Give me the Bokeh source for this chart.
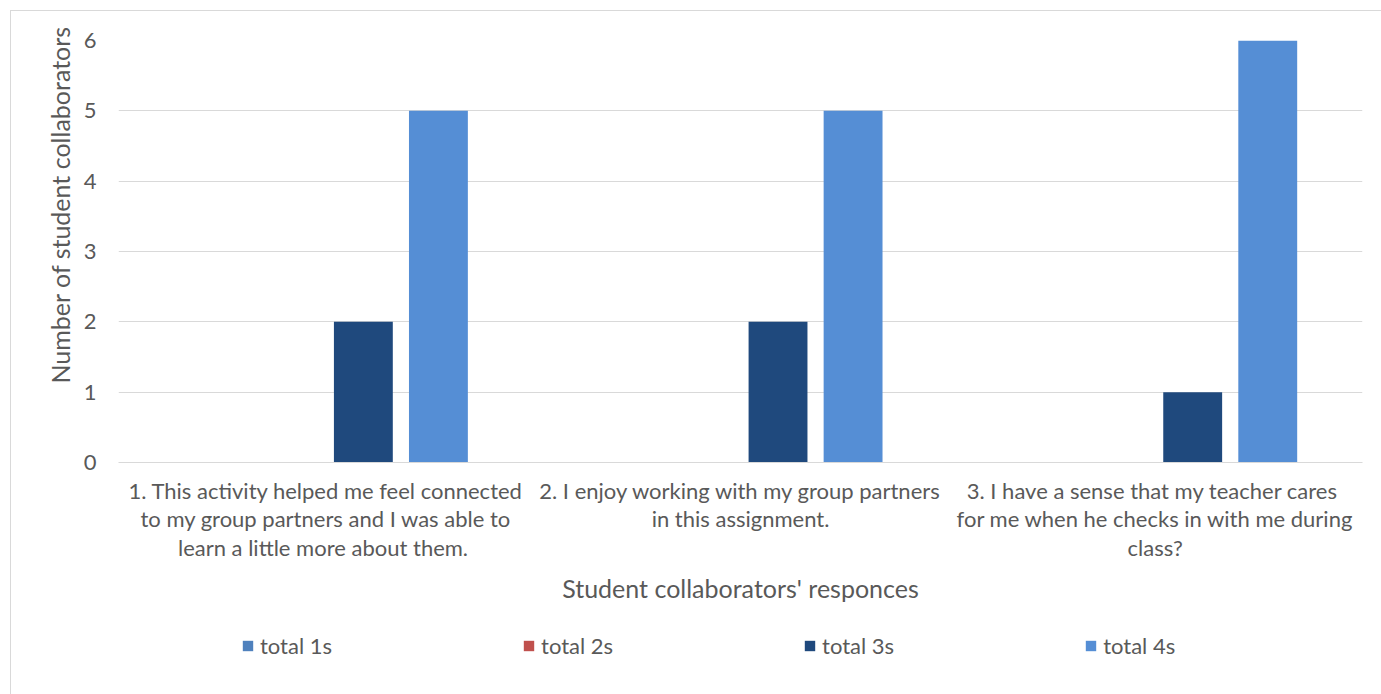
from bokeh.plotting import figure
from bokeh.layouts import column
from bokeh.models import (ColumnDataSource, FactorRange, Range1d, Legend,
                          LegendItem, FixedTicker, Title)
from bokeh.transform import dodge
from bokeh.embed import file_html
from bokeh.resources import INLINE

# ---- data ----
categories = [
    "1. This activity helped me feel connected\nto my group partners and I was able to\nlearn a little more  about them.",
    "2. I enjoy working with my group partners\nin this assignment.",
    "3.  I have a sense that my teacher cares\nfor me when he checks in with me during\nclass?",
]
series_names = ["total 1s", "total 2s", "total 3s", "total 4s"]
total_1s = [0, 0, 0]
total_2s = [0, 0, 0]
total_3s = [2, 2, 1]
total_4s = [5, 5, 6]
y_ticks = [0, 1, 2, 3, 4, 5, 6]
x_title = "Student collaborators' responces"
y_title = "Number of student collaborators"

colors = ["#4F81BD", "#C0504D", "#1F497D", "#558ED5"]
FONT = "Lato"
TXT = "#595959"
GRID = "#D9D9D9"

source = ColumnDataSource(data=dict(
    cat=categories, s1=total_1s, s2=total_2s, s3=total_3s, s4=total_4s))

p = figure(x_range=FactorRange(*categories), y_range=Range1d(0, 6),
           width=1370, height=610, output_backend="svg", toolbar_location=None,
           min_border_left=107, min_border_right=19, min_border_top=29,
           min_border_bottom=159)
p.outline_line_color = None
p.background_fill_color = "white"
p.border_fill_color = "white"

offsets = [-0.2715, -0.0905, 0.0905, 0.2715]
cols = ["s1", "s2", "s3", "s4"]
for col, off, c in zip(cols, offsets, colors):
    p.vbar(x=dodge("cat", off, range=p.x_range), top=col, width=0.142,
           source=source, fill_color=c, line_color=None)

# y axis
p.yaxis.ticker = FixedTicker(ticks=y_ticks)
p.yaxis.axis_line_color = None
p.yaxis.major_tick_line_color = None
p.yaxis.minor_tick_line_color = None
p.yaxis.major_label_text_font = FONT
p.yaxis.major_label_text_font_size = "22px"
p.yaxis.major_label_text_color = TXT
p.yaxis.major_label_standoff = 16

# y title (left panel, placed from the bottom of the frame like Excel)
ytitle = Title(text=y_title, align="left", offset=79, standoff=12,
               text_font=FONT, text_font_size="25px",
               text_font_style="normal", text_color=TXT)
p.add_layout(ytitle, "left")

# x axis
p.xaxis.axis_line_color = GRID
p.xaxis.major_tick_line_color = None
p.xaxis.minor_tick_line_color = None
p.xaxis.major_label_text_font = FONT
p.xaxis.major_label_text_font_size = "22px"
p.xaxis.major_label_text_color = TXT
p.xaxis.major_label_text_line_height = 1.06
p.xaxis.major_label_standoff = 8
p.xaxis.axis_label = x_title
p.xaxis.axis_label_text_font = FONT
p.xaxis.axis_label_text_font_size = "25px"
p.xaxis.axis_label_text_font_style = "normal"
p.xaxis.axis_label_text_color = TXT
p.xaxis.axis_label_standoff = 9

p.xgrid.grid_line_color = None
p.ygrid.grid_line_color = GRID
p.ygrid.grid_line_width = 1

# legend strip below the chart (its frame is aligned with the chart's frame)
lf = figure(width=1370, height=73, output_backend="svg", toolbar_location=None,
            x_range=Range1d(0, 1), y_range=Range1d(0, 1),
            x_axis_type=None, y_axis_type=None, min_border=0)
lf.outline_line_color = None
lf.xgrid.grid_line_color = None
lf.ygrid.grid_line_color = None
# legend swatch proxies, kept outside the visible range
leg_renderers = [lf.vbar(x=[-5], top=[0], width=0.1, fill_color=c,
                         line_color=None) for c in colors]
legend = Legend(items=[LegendItem(label=n, renderers=[r])
                       for n, r in zip(series_names, leg_renderers)],
                orientation="horizontal", location=(123, 35),
                padding=0, margin=0, spacing=190, glyph_width=13,
                glyph_height=13, label_standoff=6, border_line_color=None,
                background_fill_alpha=0, label_text_font=FONT,
                label_text_font_size="22px", label_text_color=TXT)
lf.add_layout(legend, "center")

layout = column(p, lf, spacing=0, margin=(10, 0, 0, 10),
                styles={"border-top": "1px solid #D9D9D9",
                        "border-left": "1px solid #D9D9D9"})

open("out.html", "w").write(file_html(layout, INLINE))
